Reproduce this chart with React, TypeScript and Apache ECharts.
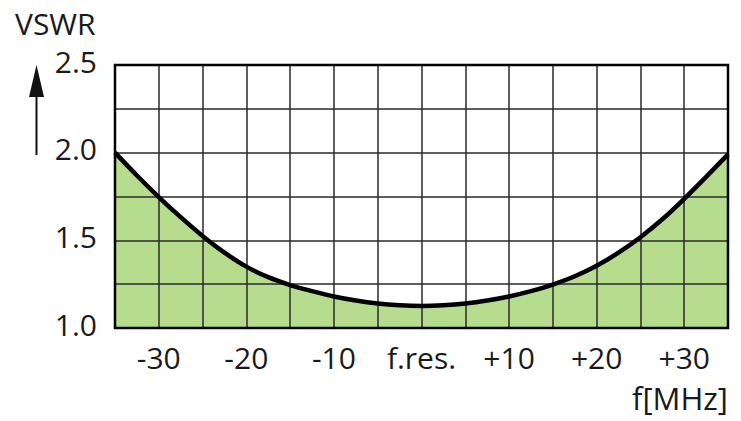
import React, { useEffect, useRef } from "react";
import * as echarts from "echarts";

const freqOffsets = [
  -35, -32.5, -30, -27.5, -25, -22.5, -20, -17.5, -15, -12.5, -10, -7.5, -5, -2.5, 0,
  2.5, 5, 7.5, 10, 12.5, 15, 17.5, 20, 22.5, 25, 27.5, 30, 32.5, 35,
];
const vswrValues = [
  2.0, 1.87, 1.747, 1.632, 1.525, 1.43, 1.35, 1.29, 1.245, 1.21, 1.18, 1.157, 1.14, 1.13, 1.126,
  1.13, 1.14, 1.157, 1.18, 1.21, 1.248, 1.295, 1.355, 1.43, 1.518, 1.62, 1.737, 1.862, 1.99,
];
const xLabeled = [-30, -20, -10, 0, 10, 20, 30];
const yLabeled = [1.0, 1.5, 2.0, 2.5];

const FONT = "'Open Sans', sans-serif";
const TXT = "#1a1a1a";

export default function App() {
  const ref = useRef<HTMLDivElement>(null);
  useEffect(() => {
    document.body.style.margin = "0";
    if (!ref.current) return;
    const chart = echarts.init(ref.current, null, { renderer: "svg" });
    const data = freqOffsets.map((f, i) => [f, vswrValues[i]]);
    const gridLine = { show: true, lineStyle: { color: "#2a2a2a", width: 1.5 } };
    chart.setOption({
      animation: false,
      backgroundColor: "#ffffff",
      grid: {
        left: 115,
        right: 13,
        top: 65,
        bottom: 93,
        show: true,
        borderColor: "#000",
        borderWidth: 2.5,
        z: 4,
      },
      xAxis: {
        type: "value",
        min: -35,
        max: 35,
        interval: 5,
        z: 3,
        axisLine: { show: false },
        axisTick: { show: false },
        splitLine: gridLine,
        axisLabel: {
          margin: 14,
          fontFamily: FONT,
          fontSize: 30,
          color: TXT,
          formatter: (v: number) => {
            if (!xLabeled.includes(v)) return "";
            if (v === 0) return "f.res.";
            return v > 0 ? "+" + v : String(v);
          },
        },
      },
      yAxis: {
        type: "value",
        min: 1,
        max: 2.5,
        interval: 0.25,
        z: 3,
        axisLine: { show: false },
        axisTick: { show: false },
        splitLine: gridLine,
        axisLabel: {
          margin: 18,
          fontFamily: FONT,
          fontSize: 30,
          color: TXT,
          verticalAlign: "bottom",
          lineHeight: 34,
          padding: [0, 0, -13, 0],
          formatter: (v: number) => (yLabeled.some((y) => Math.abs(y - v) < 1e-6) ? v.toFixed(1) : ""),
        },
      },
      series: [
        {
          type: "line",
          data,
          smooth: 0.3,
          symbol: "none",
          z: 1,
          lineStyle: { width: 0 },
          areaStyle: { color: "#b6dc8d", opacity: 1, origin: "start" },
        },
        {
          type: "line",
          data,
          smooth: 0.3,
          symbol: "none",
          z: 5,
          lineStyle: { color: "#000", width: 4.5 },
        },
      ],
      graphic: [
        {
          type: "text",
          left: 15,
          top: 8,
          style: { text: "VSWR", fontFamily: FONT, fontSize: 30, fill: TXT },
        },
        {
          type: "line",
          shape: { x1: 36.5, y1: 95, x2: 36.5, y2: 155 },
          style: { stroke: "#111", lineWidth: 2 },
        },
        {
          type: "polygon",
          shape: { points: [[36.5, 65], [29, 97], [44, 97]] },
          style: { fill: "#111" },
        },
        {
          type: "text",
          right: 13,
          top: 382,
          style: { text: "f[MHz]", fontFamily: FONT, fontSize: 31, fill: TXT },
        },
      ],
    });
    return () => chart.dispose();
  }, []);
  return <div ref={ref} style={{ width: 741, height: 421 }} />;
}
